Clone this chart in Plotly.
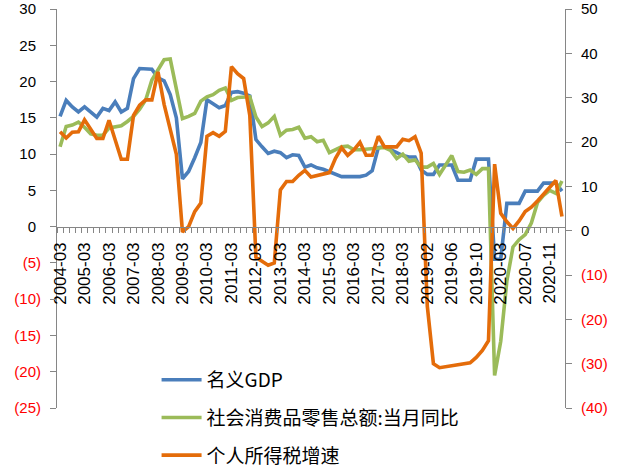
import plotly.graph_objects as go

# ---- categories ----
categories = []
for yr in range(2004, 2019):
    for m in ["03", "06", "09", "12"]:
        categories.append(f"{yr}-{m}")
categories += [f"2019-{m:02d}" for m in range(2, 13)]
categories += [f"2020-{m:02d}" for m in range(2, 13)]
categories += ["2021-02"]

# ---- series values ----
gdp_nominal = [
    15.2, 17.4, 16.5, 15.8, 16.5, 15.8, 15.1, 16.3, 16.0, 17.2, 15.8, 16.3,
    20.4, 21.8, 21.7, 21.7, 20.5, 20.1, 18.2, 15.0, 6.6, 7.6, 9.5, 11.6,
    17.5, 17.0, 16.4, 16.7, 18.5, 18.6, 18.4, 18.0, 12.0, 11.0, 10.1, 10.4,
    10.2, 9.5, 9.9, 9.8, 8.2, 8.5, 8.1, 7.9, 7.6, 7.2, 6.9, 6.9,
    6.9, 6.9, 7.1, 7.7, 10.9, 11.0, 10.6, 10.2, 9.8, 9.6, 9.6, 7.8,
    7.2, 7.2, 8.5, 8.5, 8.5, 6.4, 6.4, 6.4, 9.3, 9.3, 9.3,
    -4.5, -4.5, 3.2, 3.2, 3.2, 4.9, 4.9, 4.9, 6.0, 6.0, 6.0, 4.9,
]
retail_sales = [
    11.0, 13.8, 14.0, 14.4, 13.7, 12.8, 12.6, 12.6, 13.6, 13.8, 13.9, 14.5,
    15.2, 16.2, 17.5, 20.2, 21.6, 23.0, 23.1, 19.1, 14.9, 15.2, 15.6, 17.3,
    17.9, 18.2, 18.8, 19.1, 17.4, 17.8, 17.9, 17.9, 15.1, 13.8, 14.3, 15.2,
    12.6, 13.3, 13.4, 13.7, 12.2, 12.4, 11.7, 11.9, 10.2, 10.6, 11.0, 11.1,
    10.6, 10.6, 10.7, 10.8, 10.9, 10.9, 10.5, 9.4, 10.0, 9.0, 9.2, 8.2,
    8.2, 8.7, 7.2, 8.6, 9.8, 7.6, 7.5, 7.8, 7.2, 8.0, 8.0,
    -20.5, -15.8, -7.5, -2.8, -1.8, -1.1, 0.5, 3.3, 4.3, 5.0, 4.6, 6.3,
]
income_tax = [
    22.3, 20.9, 22.2, 22.3, 25.0, 22.8, 20.8, 20.8, 24.9, 20.5, 16.1, 16.1,
    26.0, 28.3, 29.5, 29.5, 35.8, 28.5, 22.6, 17.2, -0.3, 0.9, 4.3, 6.2,
    21.3, 22.1, 21.3, 22.4, 37.0, 35.4, 34.3, 26.0, -6.0, -7.0, -7.8, -7.3,
    9.2, 11.1, 11.1, 12.5, 13.6, 12.1, 12.5, 12.7, 13.1, 16.3, 18.7, 17.0,
    18.2, 19.9, 17.0, 17.0, 21.3, 18.9, 18.9, 18.9, 20.6, 20.3, 21.2, 17.5,
    -17.0, -30.0, -30.9, -30.7, -30.5, -30.3, -30.0, -29.8, -28.6, -27.0, -24.8,
    15.0, 3.9, 2.0, 0.5, 2.2, 4.3, 5.3, 6.7, 8.2, 9.8, 11.3, 3.2,
]

series_names = ["名义GDP", "社会消费品零售总额:当月同比", "个人所得税增速"]
series_colors = ["#4A7EBB", "#9BBB59", "#E46C0A"]

left_ticks = [30, 25, 20, 15, 10, 5, 0, -5, -10, -15, -20, -25]
right_ticks = [50, 40, 30, 20, 10, 0, -10, -20, -30, -40]


def fmt(v, pad):
    if v < 0:
        return f"<span style='color:#FF0000'>({abs(v)})</span>"
    if pad:
        return f"{v}<span style='color:rgba(0,0,0,0)'>)</span>"
    return f"{v}"


x_idx = list(range(len(categories)))
label_idx = x_idx[::4]

fig = go.Figure()
for vals, name, col, ax in zip(
    [gdp_nominal, retail_sales, income_tax], series_names, series_colors, ["y", "y", "y2"]
):
    fig.add_trace(go.Scatter(
        x=x_idx, y=vals, name=name, mode="lines", yaxis=ax,
        line=dict(color=col, width=3.6), legendgroup=name,
    ))

axis_col = "#868686"
tick_font = dict(family="Liberation Sans, Arial", size=15, color="#000000")

fig.update_layout(
    width=630, height=474,
    margin=dict(l=57, r=65, t=9, b=66, autoexpand=False),
    paper_bgcolor="white", plot_bgcolor="white",
    showlegend=True,
    legend=dict(
        x=0.196, y=0.118, xanchor="left", yanchor="top",
        font=dict(family="Noto Sans CJK SC", size=19, color="#000000"),
        bgcolor="rgba(0,0,0,0)", tracegroupgap=10, itemwidth=40,
    ),
    xaxis=dict(
        range=[-0.5, len(categories) - 0.5],
        anchor="free", position=25 / 55, automargin=False,
        showline=True, linecolor=axis_col, linewidth=1,
        showgrid=False, zeroline=False,
        tickmode="array", tickvals=label_idx,
        ticktext=[categories[i] for i in label_idx],
        tickangle=-90, ticks="", ticklabelstandoff=8,
        tickfont=dict(family="Liberation Sans, Arial", size=17, color="#000000"),
        minor=dict(ticks="outside", tick0=-0.5, dtick=1, ticklen=5,
                   tickcolor=axis_col, showgrid=False),
    ),
    yaxis=dict(
        range=[-25, 30], showline=True, linecolor=axis_col, linewidth=1,
        showgrid=False, zeroline=False, automargin=False,
        tickmode="array", tickvals=left_ticks,
        ticktext=[fmt(v, True) for v in left_ticks],
        ticks="outside", ticklen=6, tickcolor=axis_col,
        tickfont=tick_font, ticklabelstandoff=6,
    ),
    yaxis2=dict(
        range=[-40, 50], overlaying="y", side="right", anchor="x",
        showline=True, linecolor=axis_col, linewidth=1,
        showgrid=False, zeroline=False, automargin=False,
        tickmode="array", tickvals=right_ticks,
        ticktext=[fmt(v, False) for v in right_ticks],
        ticks="outside", ticklen=6, tickcolor=axis_col,
        tickfont=tick_font, ticklabelstandoff=6,
    ),
)

fig.write_html(
    "out.html",
    config={"displayModeBar": False},
    post_script="document.body.style.margin='0';document.body.style.overflow='hidden';",
)
